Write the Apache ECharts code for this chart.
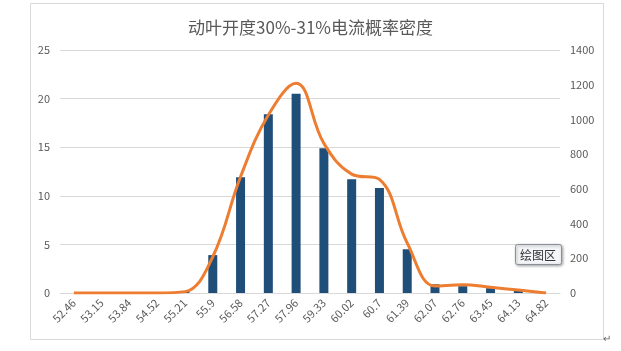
<!DOCTYPE html>
<html lang="zh">
<head>
<meta charset="utf-8">
<title>动叶开度30%-31%电流概率密度</title>
<script src="https://cdn.jsdelivr.net/npm/echarts@6/dist/echarts.min.js"></script>
<style>
  html, body { margin: 0; padding: 0; background: #fff; }
  #main { width: 621px; height: 351px; }
</style>
</head>
<body>
<div id="main"></div>
<script>
// categories (current bins)
var categories = ['52.46', '53.15', '53.84', '54.52', '55.21', '55.9', '56.58', '57.27', '57.96',
  '59.33', '60.02', '60.7', '61.39', '62.07', '62.76', '63.45', '64.13', '64.82'];
// bar values, left axis
var barValues = [0, 0, 0, 0, 0.2, 3.9, 11.9, 18.4, 20.5, 14.9, 11.7, 10.8, 4.5, 0.9, 0.7, 0.5, 0.25, 0];
// density curve, right axis
var lineValues = [0, 0, 0, 0, 8, 209, 670, 1025, 1208, 862, 685, 655, 288, 40, 48, 33, 17, 0];
var leftTicks = [0, 25, 5];
var rightTicks = [0, 1400, 200];

var chart = echarts.init(document.getElementById('main'));
var labelColor = '#595959';
var font = '"Noto Sans CJK SC", "Liberation Sans", sans-serif';

chart.setOption({
  animation: false,
  title: {
    text: '动叶开度30%-31%电流概率密度',
    left: 'center',
    top: 14,
    textStyle: { fontSize: 17, fontWeight: 'normal', color: labelColor, fontFamily: font }
  },
  grid: { left: 60, right: 61, top: 50, bottom: 58 },
  xAxis: {
    type: 'category',
    data: categories,
    axisLine: { lineStyle: { color: '#d9d9d9' } },
    axisTick: { show: false },
    axisLabel: { rotate: 45, color: labelColor, fontSize: 11, margin: 8, interval: 0, fontFamily: font }
  },
  yAxis: [{
    type: 'value',
    min: leftTicks[0], max: leftTicks[1], interval: leftTicks[2],
    axisLine: { show: false },
    axisTick: { show: false },
    splitLine: { lineStyle: { color: '#d9d9d9' } },
    axisLabel: { color: labelColor, fontSize: 11, margin: 10, fontFamily: font }
  }, {
    type: 'value',
    min: rightTicks[0], max: rightTicks[1], interval: rightTicks[2],
    axisLine: { show: false },
    axisTick: { show: false },
    splitLine: { show: false },
    axisLabel: { color: labelColor, fontSize: 11, margin: 10, fontFamily: font,
      formatter: function (v) { return String(v); } }
  }],
  series: [{
    type: 'bar',
    data: barValues,
    yAxisIndex: 0,
    barWidth: 9,
    itemStyle: { color: '#1f4e79' }
  }, {
    type: 'line',
    data: lineValues,
    yAxisIndex: 1,
    smooth: 0.4,
    symbol: 'none',
    lineStyle: { color: '#ed7d31', width: 3 }
  }],
  graphic: [{
    type: 'rect',
    shape: { x: 30.5, y: 3.5, width: 573, height: 336 },
    style: { fill: null, stroke: '#d9d9d9', lineWidth: 1 },
    silent: true
  }, {
    type: 'rect',
    shape: { x: 515.5, y: 244.5, width: 46, height: 20, r: 2 },
    style: { fill: '#f4f5f8', stroke: '#8a8f99', lineWidth: 1, shadowBlur: 3, shadowOffsetX: 1, shadowOffsetY: 1, shadowColor: 'rgba(0,0,0,0.35)' },
    z: 100
  }, {
    type: 'text',
    x: 538, y: 255,
    style: { text: '绘图区', fill: '#333', fontSize: 12, fontFamily: font, align: 'center', verticalAlign: 'middle' },
    z: 101
  }, {
    type: 'text',
    x: 607, y: 338,
    style: { text: '↵', fill: '#666', fontSize: 10, fontFamily: font, align: 'center', verticalAlign: 'middle' },
    z: 101
  }]
});
</script>
</body>
</html>
